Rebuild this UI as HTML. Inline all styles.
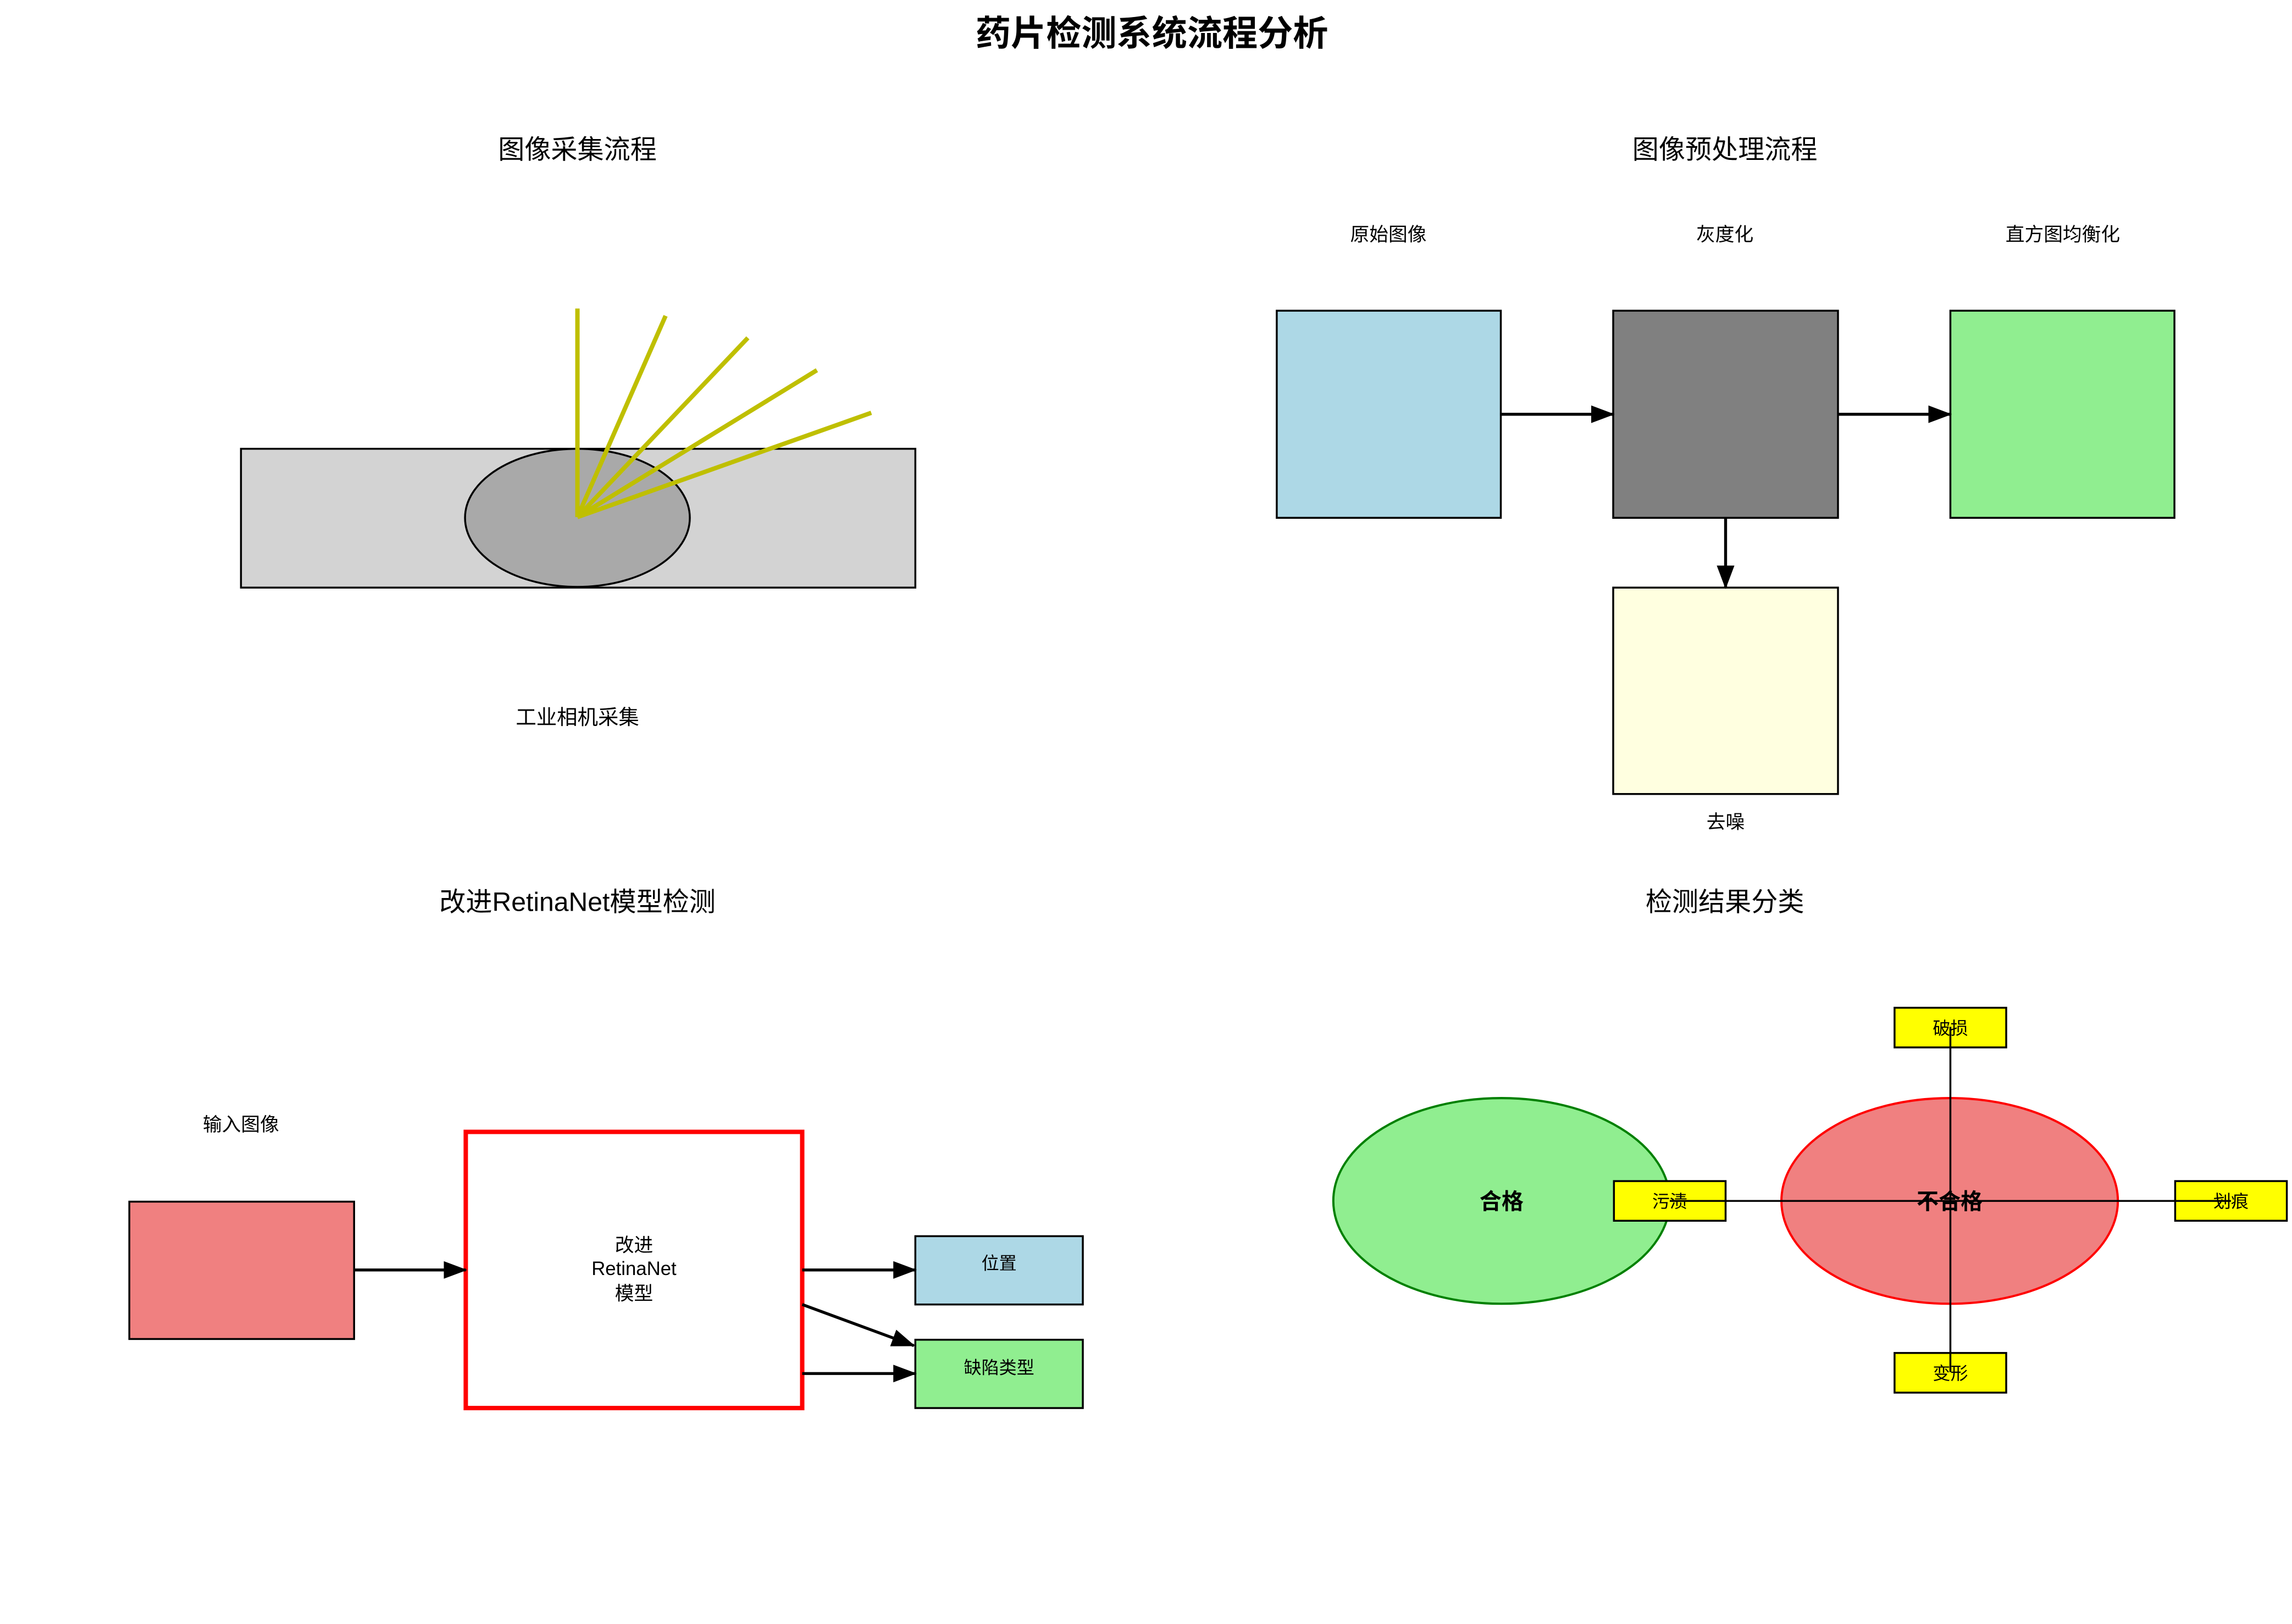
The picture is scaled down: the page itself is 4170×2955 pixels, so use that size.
<!DOCTYPE html>
<html><head><meta charset="utf-8"><style>
html,body{margin:0;padding:0;background:#fff;}
svg{display:block;}
text{font-family:"Liberation Sans","Noto Sans CJK SC",sans-serif;}
</style></head><body>
<svg width="4170" height="2955" viewBox="0 0 1560 1105.5" xmlns="http://www.w3.org/2000/svg">
<defs>
<marker id="ah" markerWidth="16" markerHeight="12" refX="15" refY="6" orient="auto" markerUnits="userSpaceOnUse">
<path d="M0,0 L16,6 L0,12 Z" fill="#000"/>
</marker>
</defs>
<rect width="1560" height="1105.5" fill="#fff"/>
<text x="784" y="31" font-size="24" font-weight="bold" text-anchor="middle">药片检测系统流程分析</text>

<!-- Panel 1 -->
<text x="393" y="108" font-size="18" text-anchor="middle">图像采集流程</text>
<rect x="164" y="305.5" width="459" height="94.5" fill="#d3d3d3" stroke="#000" stroke-width="1.3"/>
<ellipse cx="393" cy="352.5" rx="76.5" ry="47" fill="#a9a9a9" stroke="#000" stroke-width="1.3"/>
<g stroke="#bfbf00" stroke-width="3" fill="none">
<line x1="393" y1="352" x2="393" y2="210"/>
<line x1="393" y1="352" x2="453" y2="215"/>
<line x1="393" y1="352" x2="509" y2="230"/>
<line x1="393" y1="352" x2="556" y2="252"/>
<line x1="393" y1="352" x2="593" y2="281"/>
</g>
<text x="393" y="493" font-size="14" text-anchor="middle">工业相机采集</text>

<!-- Panel 2 -->
<text x="1174" y="108" font-size="18" text-anchor="middle">图像预处理流程</text>
<text x="945" y="164" font-size="13" text-anchor="middle">原始图像</text>
<text x="1174" y="164" font-size="13" text-anchor="middle">灰度化</text>
<text x="1404" y="164" font-size="13" text-anchor="middle">直方图均衡化</text>
<rect x="869" y="211.5" width="152.5" height="141" fill="#add8e6" stroke="#000" stroke-width="1.3"/>
<rect x="1098" y="211.5" width="153" height="141" fill="#808080" stroke="#000" stroke-width="1.3"/>
<rect x="1327.5" y="211.5" width="152.5" height="141" fill="#90ee90" stroke="#000" stroke-width="1.3"/>
<rect x="1098" y="400" width="153" height="140.5" fill="#ffffe0" stroke="#000" stroke-width="1.3"/>
<g stroke="#000" stroke-width="2" marker-end="url(#ah)">
<line x1="1021.5" y1="282" x2="1098" y2="282"/>
<line x1="1251" y1="282" x2="1327.5" y2="282"/>
<line x1="1174.5" y1="352.5" x2="1174.5" y2="400"/>
</g>
<text x="1174.5" y="564" font-size="13" text-anchor="middle">去噪</text>

<!-- Panel 3 -->
<text x="393" y="620" font-size="18" text-anchor="middle">改进RetinaNet模型检测</text>
<text x="164" y="770" font-size="13" text-anchor="middle">输入图像</text>
<rect x="88" y="818" width="153" height="93.5" fill="#f08080" stroke="#000" stroke-width="1.3"/>
<rect x="317" y="770.5" width="229" height="188" fill="#fff" stroke="#ff0000" stroke-width="3"/>
<text x="431.5" y="852" font-size="13" text-anchor="middle">改进</text>
<text x="431.5" y="868" font-size="13" text-anchor="middle">RetinaNet</text>
<text x="431.5" y="885" font-size="13" text-anchor="middle">模型</text>
<rect x="623" y="841.5" width="114" height="46.5" fill="#add8e6" stroke="#000" stroke-width="1.3"/>
<rect x="623" y="912" width="114" height="46.5" fill="#90ee90" stroke="#000" stroke-width="1.3"/>
<text x="680" y="864" font-size="12" text-anchor="middle">位置</text>
<text x="680" y="935" font-size="12" text-anchor="middle">缺陷类型</text>
<g stroke="#000" stroke-width="2" marker-end="url(#ah)">
<line x1="241" y1="864.5" x2="317" y2="864.5"/>
<line x1="546" y1="864.5" x2="623" y2="864.5"/>
<line x1="546" y1="888" x2="622" y2="916"/>
<line x1="546" y1="935" x2="623" y2="935"/>
</g>

<!-- Panel 4 -->
<text x="1174" y="620" font-size="18" text-anchor="middle">检测结果分类</text>
<ellipse cx="1022" cy="817.5" rx="114.5" ry="70" fill="#90ee90" stroke="#008000" stroke-width="1.5"/>
<ellipse cx="1327" cy="817.5" rx="114.5" ry="70" fill="#f08080" stroke="#ff0000" stroke-width="1.5"/>
<text x="1022" y="823" font-size="15" font-weight="bold" text-anchor="middle">合格</text>
<text x="1327" y="823" font-size="15" font-weight="bold" text-anchor="middle">不合格</text>
<g fill="#ffff00" stroke="#000" stroke-width="1.3">
<rect x="1289.5" y="686" width="76" height="27"/>
<rect x="1098.5" y="804" width="76" height="27"/>
<rect x="1480.5" y="804" width="76" height="27"/>
<rect x="1289.5" y="921" width="76" height="27"/>
</g>
<g font-size="12" text-anchor="middle">
<text x="1327.5" y="704">破损</text>
<text x="1136.5" y="822">污渍</text>
<text x="1518.5" y="822">划痕</text>
<text x="1327.5" y="939">变形</text>
</g>
<g stroke="#000" stroke-width="1.3">
<line x1="1136.5" y1="817.5" x2="1518.5" y2="817.5"/>
<line x1="1327.5" y1="699" x2="1327.5" y2="934"/>
</g>
</svg>
</body></html>
